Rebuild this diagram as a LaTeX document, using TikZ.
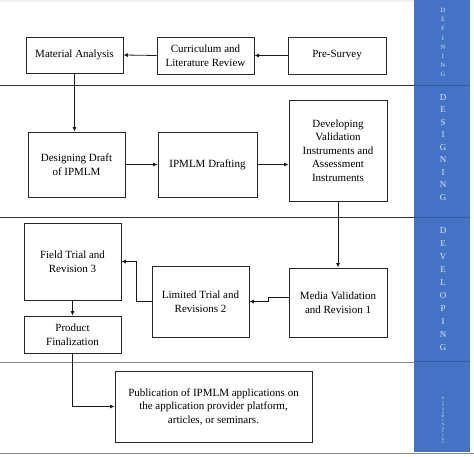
\documentclass[tikz,border=0pt]{standalone}
\usepackage{fontspec}
\setmainfont{Liberation Serif}
\usetikzlibrary{arrows.meta}
\definecolor{colblue}{RGB}{68,114,196}
\definecolor{sepblue}{RGB}{52,90,160}
\definecolor{lettercol}{RGB}{222,230,245}
\begin{document}
\begin{tikzpicture}[x=1bp,y=-1bp,
  box/.style={draw=black!85,line width=0.8bp,align=center,inner sep=2bp,
    font=\fontsize{11bp}{13.5bp}\selectfont},
  arr/.style={draw=black!90,line width=0.8bp,-{Latex[length=4.5bp,width=4bp]}},
  stage/.style={text=lettercol,align=center,inner sep=0pt}]
\useasboundingbox (0,0) rectangle (474,457);
% top light strip
\fill[black!6] (0,0) rectangle (414,2.5);
% blue column
\fill[colblue] (414,0) rectangle (470,452);
\draw[sepblue,line width=0.8bp] (414,85) -- (470,85);
\draw[sepblue,line width=0.8bp] (414,217) -- (470,217);
\draw[sepblue,line width=0.8bp] (414,361) -- (470,361);
% horizontal separators
\draw[black!80,line width=0.9bp] (0,85) -- (414,85);
\draw[black!80,line width=0.9bp] (0,217) -- (414,217);
\draw[black!45,line width=0.9bp] (0,362) -- (414,362);
\draw[black!45,line width=0.9bp] (0,453) -- (474,453);
% stage labels
\node[stage,font=\fontsize{6.5bp}{9.1bp}\selectfont] (sdef) at (443,42.5) {D\\E\\F\\I\\N\\I\\N\\G};
\node[stage,font=\fontsize{9bp}{12.5bp}\selectfont] (sdes) at (443,147.5) {D\\E\\S\\I\\G\\N\\I\\N\\G};
\node[stage,font=\fontsize{9bp}{13bp}\selectfont] (sdev) at (443,289) {D\\E\\V\\E\\L\\O\\P\\I\\N\\G};
\node[stage,font=\fontsize{3.6bp}{3.7bp}\selectfont] (sdis) at (443,420.5) {D\\I\\S\\S\\E\\M\\I\\N\\A\\T\\I\\N\\G};
% boxes
\node[box,minimum width=97bp,minimum height=36bp] (MA) at (74.5,55) {Material Analysis};
\node[box,minimum width=97bp,minimum height=37bp] (CLR) at (205.5,55.5) {Curriculum and\\Literature Review};
\node[box,minimum width=98bp,minimum height=37bp] (PS) at (337,55.5) {Pre-Survey};
\node[box,minimum width=97bp,minimum height=65bp] (DD) at (76.5,164.5) {Designing Draft\\of IPMLM};
\node[box,minimum width=99bp,minimum height=65bp] (ID) at (207.5,164.5) {IPMLM Drafting};
\node[box,minimum width=98bp,minimum height=101bp] (DV) at (338,150.5) {Developing\\Validation\\Instruments and\\Assessment\\Instruments};
\node[box,minimum width=97bp,minimum height=77bp] (FT) at (72.5,261.5) {Field Trial and\\Revision 3};
\node[box,minimum width=97bp,minimum height=37bp] (PF) at (72.5,334.5) {Product\\Finalization};
\node[box,minimum width=97bp,minimum height=71bp] (LT) at (200.5,301.5) {Limited Trial and\\Revisions 2};
\node[box,minimum width=98bp,minimum height=69bp] (MV) at (338,302.5) {Media Validation\\and Revision 1};
\node[box,minimum width=197bp,minimum height=71bp] (PUB) at (213.5,406.5) {Publication of IPMLM applications on\\the application provider platform,\\articles, or seminars.};
% connectors
\draw[arr] (PS.west) -- (CLR.east);
\draw[arr] (CLR.west) -- (MA.east);
\draw[arr] (MA.south) -- (MA.south |- DD.north);
\draw[arr] (DD.east) -- (DD.east -| ID.west);
\draw[arr] (ID.east) -- (ID.east -| DV.west);
\draw[arr] (DV.south) -- (DV.south |- MV.north);
\draw[arr] ([yshift=5.5bp]MV.west) -- ++(-20,0) |- (LT.east);
\draw[arr] (LT.west) -- ++(-15,0) |- (FT.east);
\draw[arr] (FT.south) -- (FT.south |- PF.north);
\draw[arr] (PF.south) |- (PUB.west);
\end{tikzpicture}
\end{document}
